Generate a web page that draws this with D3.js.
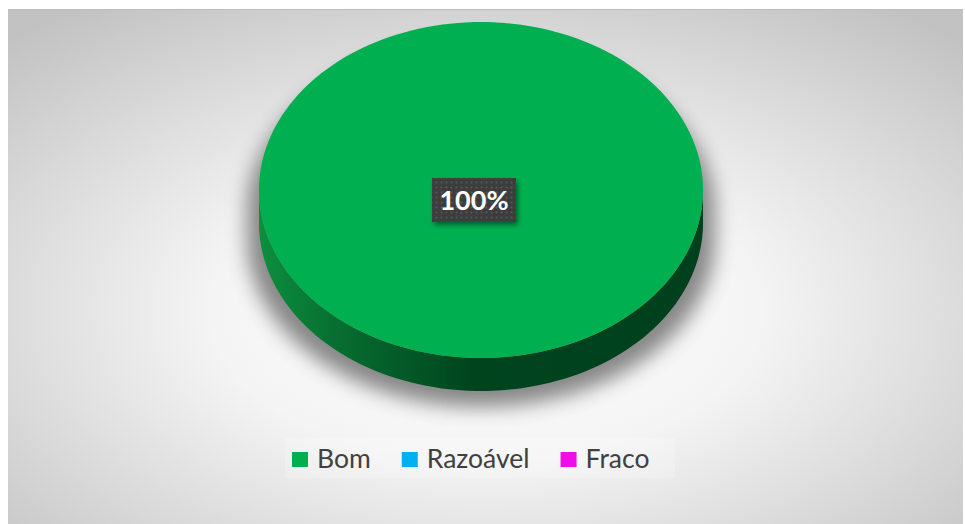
<!DOCTYPE html>
<html>
<head>
<meta charset="utf-8">
<script src="https://cdn.jsdelivr.net/npm/d3@7"></script>
<style>
  body { margin: 0; background: #fff; }
  svg { display: block; }
</style>
</head>
<body>
<svg id="chart" width="965" height="524"></svg>
<script>
var categories = ["Bom", "Razoável", "Fraco"];
var values = [100, 0, 0];
var colors = ["#00b050", "#00b0f0", "#f00ee8"];
var sideDark = ["#00441e", "#005a78", "#78007a"];
var sideLight = ["#0c8f3e", "#0a8fc0", "#c00cbd"];

var W = 965, H = 524;
var svg = d3.select("#chart");
var defs = svg.append("defs");

// background gradient of the chart area
var bg = defs.append("radialGradient").attr("id", "bg")
  .attr("cx", "50%").attr("cy", "58%").attr("r", "72%");
bg.append("stop").attr("offset", "0%").attr("stop-color", "#ffffff");
bg.append("stop").attr("offset", "40%").attr("stop-color", "#f4f4f4");
bg.append("stop").attr("offset", "100%").attr("stop-color", "#c2c2c2");

svg.append("rect").attr("x", 8).attr("y", 9).attr("width", 955).attr("height", 520)
  .attr("fill", "url(#bg)");
svg.append("line").attr("x1", 8).attr("x2", 963).attr("y1", 9.5).attr("y2", 9.5)
  .attr("stroke", "#bcbcbc").attr("stroke-width", 1);

var cx = 481, cy = 190, rx = 222, ry = 168, depth = 33;

var pie = d3.pie().sort(null)(values);
var total = d3.sum(values);

function px(a, r) { return cx + (r || rx) * Math.sin(a); }
function py(a, dz) { return cy - ry * Math.cos(a) + (dz || 0); }

function topPath(d, r) {
  var n = 180, pts = [];
  if (d.endAngle - d.startAngle < 2 * Math.PI - 1e-6) pts.push([cx, cy]);
  for (var i = 0; i <= n; i++) {
    var a = d.startAngle + (d.endAngle - d.startAngle) * i / n;
    pts.push([px(a, r), py(a)]);
  }
  return d3.line()(pts) + "Z";
}

function sidePath(d, r) {
  var a0 = Math.max(d.startAngle, Math.PI / 2), a1 = Math.min(d.endAngle, 3 * Math.PI / 2);
  if (a1 <= a0) return null;
  var n = 120, top = [], bot = [];
  for (var i = 0; i <= n; i++) {
    var a = a0 + (a1 - a0) * i / n;
    top.push([px(a, r), py(a)]);
    bot.push([px(a, r), py(a, depth)]);
  }
  return d3.line()(top.concat(bot.reverse())) + "Z";
}

// soft shadow behind the pie
var blur = defs.append("filter").attr("id", "blur")
  .attr("x", "-20%").attr("y", "-20%").attr("width", "140%").attr("height", "140%");
blur.append("feGaussianBlur").attr("stdDeviation", 10);

var shadowFull = {startAngle: 0, endAngle: 2 * Math.PI};
var shadow = svg.append("g").attr("opacity", 0.9).attr("filter", "url(#blur)");
shadow.append("path")
  .attr("d", topPath(shadowFull, rx + 12))
  .attr("transform", "translate(0,22)")
  .attr("fill", "#7a7a7a");
shadow.append("path")
  .attr("d", sidePath(shadowFull, rx + 12))
  .attr("transform", "translate(0,16)")
  .attr("fill", "#7a7a7a");

// side gradients
pie.forEach(function(d, i) {
  var g = defs.append("linearGradient").attr("id", "side" + i)
    .attr("gradientUnits", "userSpaceOnUse")
    .attr("x1", cx - rx).attr("x2", cx + rx).attr("y1", 0).attr("y2", 0);
  g.append("stop").attr("offset", "0%").attr("stop-color", sideLight[i]);
  g.append("stop").attr("offset", "18%").attr("stop-color", d3.interpolateRgb(sideLight[i], sideDark[i])(0.45));
  g.append("stop").attr("offset", "48%").attr("stop-color", sideDark[i]);
  g.append("stop").attr("offset", "100%").attr("stop-color", d3.color(sideDark[i]).darker(0.15));
});

var slices = pie.filter(function(d) { return d.value > 0; });

svg.append("g").selectAll("path.side")
  .data(slices).enter().append("path")
  .attr("class", "side")
  .attr("d", function(d) { return sidePath(d); })
  .attr("fill", function(d) { return "url(#side" + d.index + ")"; });

svg.append("g").selectAll("path.top")
  .data(slices).enter().append("path")
  .attr("class", "top")
  .attr("d", function(d) { return topPath(d); })
  .attr("fill", function(d) { return colors[d.index]; });

// data labels
var pat = defs.append("pattern").attr("id", "dots")
  .attr("patternUnits", "userSpaceOnUse").attr("width", 5).attr("height", 5);
pat.append("rect").attr("width", 5).attr("height", 5).attr("fill", "#3d3d3d");
pat.append("circle").attr("cx", 2.5).attr("cy", 2.5).attr("r", 1).attr("fill", "#585858");

var lblShadow = defs.append("filter").attr("id", "lblShadow")
  .attr("x", "-30%").attr("y", "-30%").attr("width", "160%").attr("height", "160%");
lblShadow.append("feDropShadow").attr("dx", 2).attr("dy", 3).attr("stdDeviation", 2.5)
  .attr("flood-color", "#000").attr("flood-opacity", 0.45);

var fmt = d3.format(".0%");
slices.forEach(function(d) {
  var mid = (d.startAngle + d.endAngle) / 2;
  var full = d.endAngle - d.startAngle >= 2 * Math.PI - 1e-6;
  var lx = full ? cx - 7 : cx + rx * 0.6 * Math.sin(mid);
  var ly = full ? cy + 10 : cy - ry * 0.6 * Math.cos(mid);
  var g = svg.append("g").attr("transform", "translate(" + lx + "," + ly + ")");
  g.append("rect").attr("x", -42).attr("y", -22).attr("width", 84).attr("height", 44)
    .attr("fill", "url(#dots)").attr("filter", "url(#lblShadow)");
  g.append("text").attr("text-anchor", "middle").attr("y", 9.5)
    .attr("font-family", "Lato, 'Open Sans', sans-serif").attr("font-weight", "bold")
    .attr("font-size", 27).attr("fill", "#fff")
    .text(fmt(d.value / total));
});

// legend
var legend = svg.append("g");
legend.append("rect").attr("x", 285).attr("y", 438).attr("width", 390).attr("height", 40)
  .attr("fill", "#fff").attr("opacity", 0.22);
var items = legend.selectAll("g.item").data(categories).enter().append("g").attr("class", "item");
items.append("rect").attr("width", 16).attr("height", 15).attr("y", 452)
  .attr("fill", function(d, i) { return colors[i]; });
items.append("text").attr("y", 468)
  .attr("font-family", "Lato, 'Open Sans', sans-serif").attr("font-size", 26.5)
  .attr("fill", "#404040").text(function(d) { return d; });

var xPos = 292;
items.each(function() {
  var g = d3.select(this);
  var tw = g.select("text").node().getComputedTextLength();
  g.select("rect").attr("x", xPos);
  g.select("text").attr("x", xPos + 25);
  xPos += 25 + tw + 31;
});
</script>
</body>
</html>
